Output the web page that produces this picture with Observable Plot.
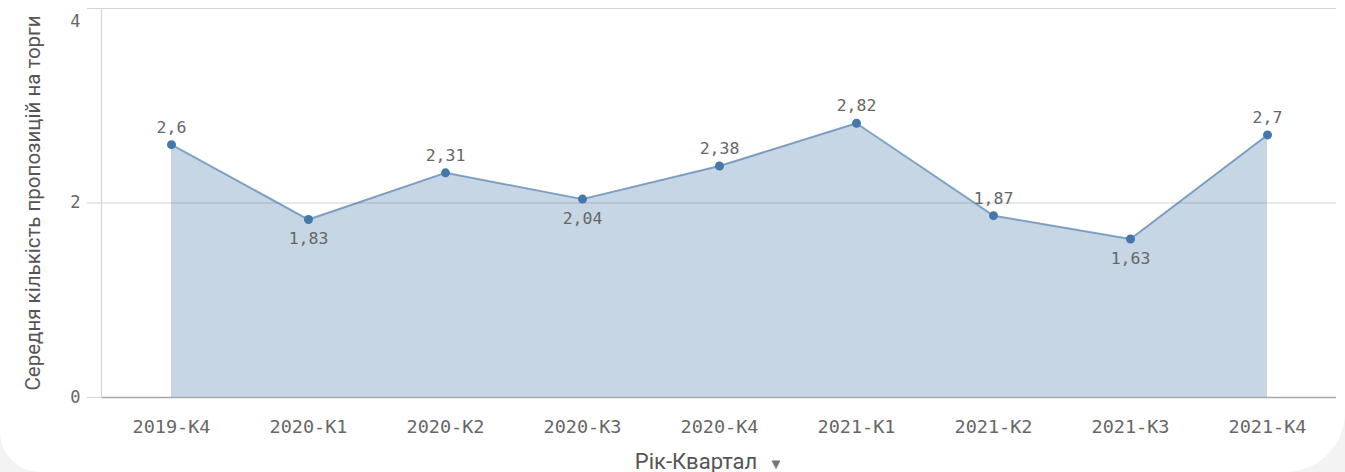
<!DOCTYPE html>
<html>
<head>
<meta charset="utf-8">
<script src="https://cdn.jsdelivr.net/npm/d3@7"></script>
<script src="https://cdn.jsdelivr.net/npm/@observablehq/plot@0.6"></script>
<style>
  html, body { margin: 0; padding: 0; background: #f3f3f3; }
  #card { width: 1345px; height: 472px; background: #fff; border-bottom-left-radius: 40px; border-bottom-right-radius: 60px; overflow: hidden; }
  svg { display: block; }
</style>
</head>
<body>
<div id="card"></div>
<script>
const quarters = ["2019-К4", "2020-К1", "2020-К2", "2020-К3", "2020-К4", "2021-К1", "2021-К2", "2021-К3", "2021-К4"];
const values = [2.6, 1.83, 2.31, 2.04, 2.38, 2.82, 1.87, 1.63, 2.7];
const yTicks = [0, 2, 4];
const yTitle = "Середня кількість пропозицій на торги";
const xTitle = "Рік-Квартал";

const data = quarters.map((q, i) => {
  const prev = i > 0 ? values[i - 1] : -Infinity;
  const next = i < values.length - 1 ? values[i + 1] : -Infinity;
  const v = values[i];
  const below = v < prev && v < next || (i === 0 && v < next) || (i === values.length - 1 && v < prev);
  return { q, v, below };
});

const fmt = v => String(v).replace(".", ",");
const mono = "DejaVu Sans Mono, monospace";
const sans = "Roboto, 'Noto Sans', sans-serif";
const blue = "#4477aa";
const yMax = d3.max(yTicks);

const chart = Plot.plot({
  width: 1345,
  height: 472,
  marginLeft: 101,
  marginRight: 9,
  marginTop: 8,
  marginBottom: 75,
  style: { background: "transparent", overflow: "visible" },
  x: { type: "point", domain: quarters, padding: 0.5 },
  y: { domain: [0, yMax] },
  marks: [
    Plot.ruleY(yTicks.filter(t => t > 0), { stroke: "#d4d4d4", strokeWidth: 1.2 }),
    Plot.areaY(data, { x: "q", y: "v", fill: blue, fillOpacity: 0.3 }),
    Plot.ruleY([0], { stroke: "#a8a8a8", strokeWidth: 1.5 }),
    Plot.frame({ anchor: "left", stroke: "#d4d4d4", strokeWidth: 1.2 }),
    Plot.axisY({ ticks: yTicks, tickSize: 14, stroke: "#d4d4d4", text: null, label: null }),
    Plot.axisY({ ticks: yTicks.filter(t => t < yMax), tickSize: 0, tickPadding: 21, fill: "#666", fontSize: 17, fontFamily: mono, label: null, tickFormat: d => String(d) }),
    Plot.axisY({ ticks: [yMax], tickSize: 0, tickPadding: 21, dy: 13, fill: "#666", fontSize: 17, fontFamily: mono, label: null, tickFormat: d => String(d) }),
    Plot.axisX({ tickSize: 0, tickPadding: 22, fill: "#666", fontSize: 18.5, fontFamily: mono, label: null }),
    Plot.lineY(data, { x: "q", y: "v", stroke: blue, strokeOpacity: 0.6, strokeWidth: 2 }),
    Plot.dot(data, { x: "q", y: "v", r: 4.5, fill: blue }),
    Plot.text(data, { x: "q", y: "v", text: d => fmt(d.v), fill: "#666", fontSize: 16.5, fontFamily: mono,
      filter: d => !d.below, lineAnchor: "bottom", dy: -12 }),
    Plot.text(data, { x: "q", y: "v", text: d => fmt(d.v), fill: "#666", fontSize: 16.5, fontFamily: mono,
      filter: d => d.below, lineAnchor: "top", dy: 13 }),
    Plot.text([yTitle], { frameAnchor: "left", text: d => d, rotate: -90, textAnchor: "middle", dx: -68, fill: "#555", fontSize: 20.5, fontFamily: sans }),
    Plot.text([xTitle], { frameAnchor: "bottom", text: d => d, dx: -23, dy: 71, fill: "#555", fontSize: 22, fontFamily: sans }),
    Plot.text(["▼"], { frameAnchor: "bottom", text: d => d, dx: 57, dy: 71, fill: "#777", fontSize: 15, fontFamily: sans })
  ]
});
document.getElementById("card").appendChild(chart);
</script>
</body>
</html>
